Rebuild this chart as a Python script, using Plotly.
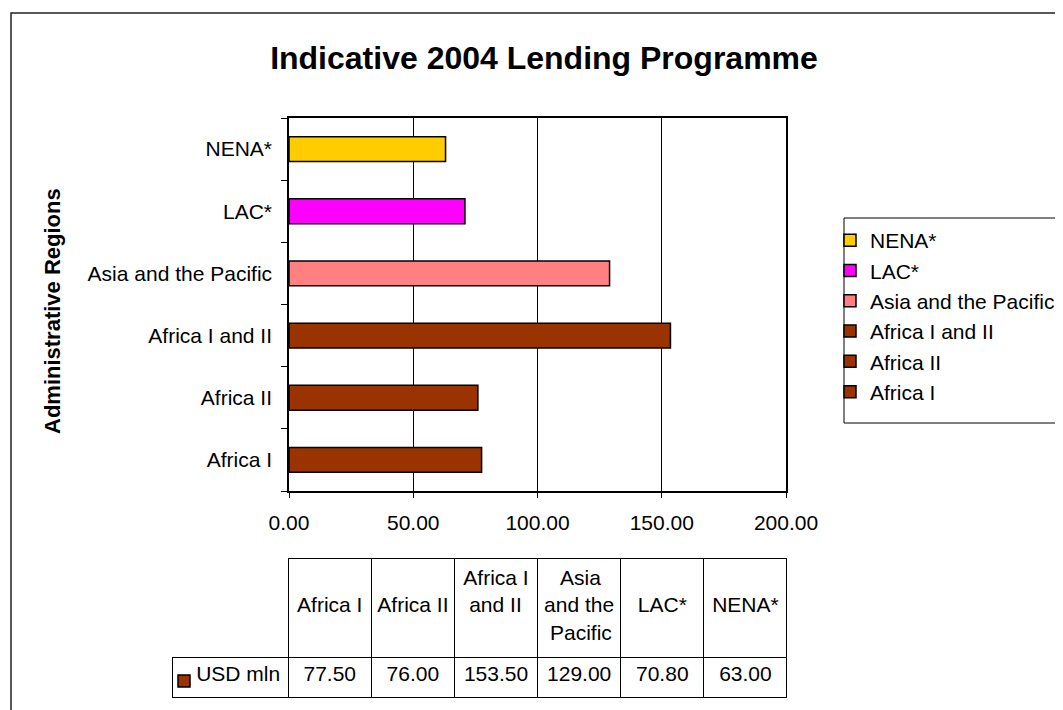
import plotly.graph_objects as go

W, H = 1063, 710
OFF = 8  # page body margin offset of the rendered figure

# ---- data ----
categories = ["Africa I", "Africa II", "Africa I and II", "Asia and the Pacific", "LAC*", "NENA*"]
values = [77.50, 76.00, 153.50, 129.00, 70.80, 63.00]
bar_colors = ["#993300", "#993300", "#993300", "#FF8080", "#FF00FF", "#FFCC00"]
NB = "\u00a0"
table_headers = [NB + "<br>Africa" + NB + "I",
                 NB + "<br>Africa" + NB + "II",
                 "Africa" + NB + "I<br>" + NB + "and" + NB + "II",
                 NB + NB + "\u2009Asia<br>and" + NB + "the<br>" + NB + "Pacific",
                 NB + "<br>LAC*",
                 NB + "<br>NENA*"]
series_name = "USD" + NB + "mln"
x_ticks = [0, 50, 100, 150, 200]

FONT = "Liberation Sans, Arial, sans-serif"


def px(x):
    return (x - OFF) / W


def py(y):
    return 1 - (y - OFF) / H


fig = go.Figure()

for cat, val, col in zip(categories, values, bar_colors):
    fig.add_trace(go.Bar(
        y=[cat], x=[val], name=cat, orientation="h",
        marker=dict(color=col, line=dict(color="black", width=1.5)),
        xaxis="x", yaxis="y", hoverinfo="x+y",
    ))

# data table
fig.add_trace(go.Table(
    domain=dict(x=[px(172), px(787)], y=[py(700), py(558)]),
    columnwidth=[116] + [83] * len(categories),
    header=dict(
        values=[""] + table_headers,
        align="center",
        height=99,
        font=dict(family=FONT, size=21, color="black"),
        fill=dict(color=["rgba(0,0,0,0)"] + ["white"] * len(categories)),
        line=dict(color=["rgba(0,0,0,0)"] + ["black"] * len(categories), width=1),
    ),
    cells=dict(
        values=[[series_name]] + [[v] for v in values],
        format=[""] + [".2f"] * len(values),
        align=["right"] + ["center"] * len(values),
        height=40,
        font=dict(family=FONT, size=21, color="black"),
        fill=dict(color="white"),
        line=dict(color="black", width=1),
    ),
))

shapes = [
    # outer chart border
    dict(type="rect", xref="paper", yref="paper", x0=px(11), x1=1.05, y0=-0.05, y1=py(13),
         line=dict(color="#222222", width=1.5), fillcolor="rgba(0,0,0,0)", layer="below"),
    # legend box
    dict(type="rect", xref="paper", yref="paper", x0=px(844), x1=1.05, y0=py(423), y1=py(218),
         line=dict(color="black", width=1), fillcolor="rgba(0,0,0,0)"),
    # legend key in the table
    dict(type="rect", xref="paper", yref="paper", x0=px(178), x1=px(190), y0=py(687), y1=py(675),
         line=dict(color="black", width=1.5), fillcolor="#993300"),
]

fig.update_layout(
    width=W, height=H,
    margin=dict(l=0, r=0, t=0, b=0, autoexpand=False),
    paper_bgcolor="white", plot_bgcolor="white",
    font=dict(family=FONT, size=21, color="black"),
    barmode="overlay",
    bargap=0.6,
    title=dict(text="<b>Indicative 2004 Lending Programme</b>", x=px(544), y=py(58),
               xanchor="center", yanchor="middle", xref="paper", yref="paper",
               font=dict(family=FONT, size=32, color="black")),
    xaxis=dict(
        domain=[px(289), px(786)], range=[0, 200], tickvals=x_ticks, tickformat=".2f",
        showgrid=True, gridcolor="black", gridwidth=1,
        showline=True, linecolor="black", linewidth=1.5, mirror=True,
        ticks="outside", ticklen=5, tickcolor="black", ticklabelstandoff=7,
        zeroline=False, fixedrange=True, automargin=False,
    ),
    yaxis=dict(
        domain=[py(491), py(118)], type="category", categoryorder="array", categoryarray=categories,
        showgrid=False, showline=True, linecolor="black", linewidth=1.5, mirror=True,
        ticks="outside", ticklen=6, tickcolor="black", tickson="boundaries", ticklabelstandoff=11,
        fixedrange=True, automargin=False,
    ),
    legend=dict(
        x=px(830), y=py(220), xanchor="left", yanchor="top", traceorder="reversed",
        bgcolor="rgba(0,0,0,0)", borderwidth=0, font=dict(family=FONT, size=21),
    ),
    annotations=[dict(
        text="<b>Administrative Regions</b>", textangle=-90, xref="paper", yref="paper",
        x=px(52), y=py(311), xanchor="center", yanchor="middle", showarrow=False,
        font=dict(family=FONT, size=22, color="black"),
    )],
    shapes=shapes,
)

fig.write_html("out.html")
